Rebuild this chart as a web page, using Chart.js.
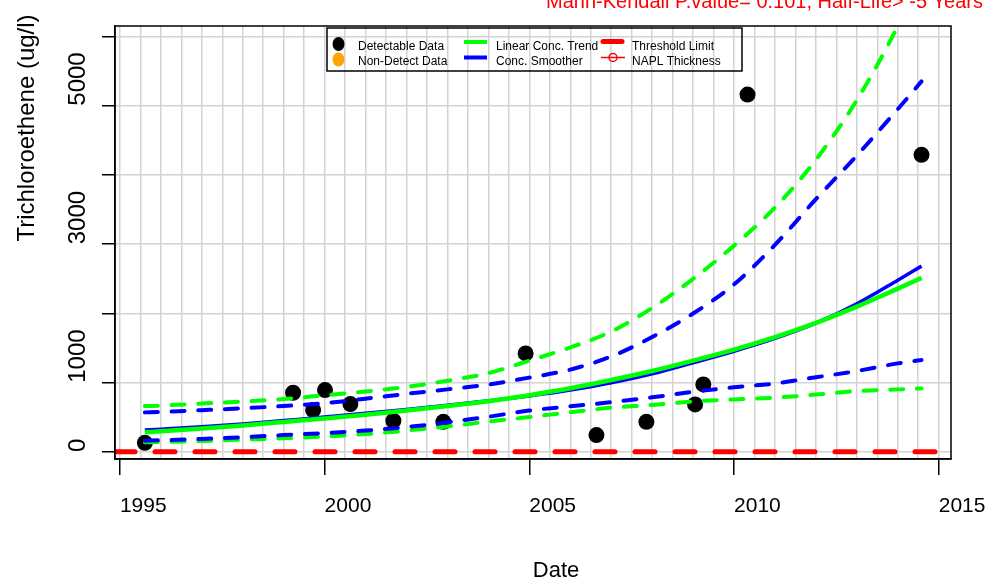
<!DOCTYPE html>
<html>
<head>
<meta charset="utf-8">
<title>Trichloroethene trend</title>
<script src="https://cdn.jsdelivr.net/npm/chart.js@4.4.1/dist/chart.umd.min.js"></script>
<style>
  html, body { margin: 0; padding: 0; background: #fff; }
  #wrap { width: 991px; height: 585px; }
</style>
</head>
<body>
<div id="wrap"><canvas id="myChart" width="991" height="585"></canvas></div>
<script>
// sampling dates (decimal years) and detected concentrations (ug/l)
const detectDates  = [1995.61, 1999.23, 1999.72, 2000.01, 2000.63, 2001.68, 2002.90,
                      2004.91, 2006.64, 2007.86, 2009.05, 2009.25, 2010.33, 2014.58];
const detectValues = [134, 856, 606, 895, 693, 452, 437,
                      1424, 245, 437, 688, 977, 5160, 4290];

// years where the fitted curves are evaluated
const fitYears = [1995.61, 1996, 1997, 1998, 1999, 2000, 2001, 2002, 2003, 2004, 2005,
                  2006, 2007, 2008, 2009, 2010, 2011, 2012, 2013, 2014, 2014.58];
// linear (log-conc) trend and its bounds
const trendValues = [285, 300, 340, 385, 435, 485, 540, 600, 665, 735, 820,
                     920, 1040, 1170, 1320, 1480, 1660, 1865, 2100, 2360, 2515];
const trendUpper  = [664, 672, 700, 730, 765, 820, 875, 940, 1030, 1140, 1320,
                     1510, 1740, 2080, 2500, 2980, 3530, 4220, 5080, 6150, 6900];
const trendLower  = [140, 145, 160, 180, 200, 225, 260, 310, 370, 440, 505,
                     575, 640, 680, 730, 760, 785, 830, 880, 905, 919];
// smoother and its bounds
const smoothValues = [317, 330, 365, 405, 455, 505, 560, 615, 675, 740, 810,
                      895, 1000, 1130, 1290, 1455, 1640, 1860, 2140, 2480, 2684];
const smoothUpper  = [573, 580, 605, 632, 665, 705, 770, 840, 905, 975, 1075,
                      1190, 1380, 1660, 2000, 2420, 2990, 3650, 4280, 4950, 5350];
const smoothLower  = [165, 170, 190, 215, 245, 275, 310, 360, 430, 510, 600,
                      660, 720, 790, 870, 935, 990, 1080, 1170, 1280, 1330];

const thresholdLimit = 5;
const xTickLabels = [1995, 2000, 2005, 2010, 2015];
const yTickLabels = [0, 1000, 3000, 5000];
const xMin = 1994.88, xMax = 2015.3;
const yMin = -100, yMax = 6150;

const FONT = '"Liberation Sans", Arial, sans-serif';

function toPoints(xs, ys){
    return xs.map((x, i) => ({x: x, y: ys[i]}));
}

/**
 * one fitted curve, solid or dashed
 */
function curve(label, values, color, width, dashed, order){
    return {
        label: label,
        data: toPoints(fitYears, values),
        borderColor: color,
        borderWidth: width,
        borderDash: dashed ? [13, 13.7] : [],
        borderCapStyle: dashed ? 'round' : 'butt',
        pointRadius: 0,
        cubicInterpolationMode: 'monotone',
        fill: false,
        clip: 0,
        order: order
    };
}

// legend drawn by hand: three columns, two rows, no fill
function drawLegend(ctx){
    ctx.strokeStyle = '#000';
    ctx.lineWidth = 1.5;
    ctx.strokeRect(327, 28, 415, 43);

    ctx.fillStyle = '#000';
    ctx.beginPath(); ctx.ellipse(338.5, 44, 6, 7, 0, 0, Math.PI * 2); ctx.fill();
    ctx.fillStyle = '#ffa500';
    ctx.beginPath(); ctx.ellipse(338.5, 59.5, 6, 7, 0, 0, Math.PI * 2); ctx.fill();

    ctx.lineCap = 'butt';
    ctx.lineWidth = 4;
    ctx.strokeStyle = '#00ff00';
    ctx.beginPath(); ctx.moveTo(464, 42); ctx.lineTo(487, 42); ctx.stroke();
    ctx.strokeStyle = '#0000ff';
    ctx.beginPath(); ctx.moveTo(464, 57.5); ctx.lineTo(487, 57.5); ctx.stroke();

    ctx.lineCap = 'round';
    ctx.lineWidth = 5;
    ctx.strokeStyle = '#ff0000';
    ctx.beginPath(); ctx.moveTo(603, 41.5); ctx.lineTo(622, 41.5); ctx.stroke();
    ctx.lineCap = 'butt';
    ctx.lineWidth = 1.5;
    ctx.beginPath(); ctx.moveTo(601, 57.5); ctx.lineTo(625, 57.5); ctx.stroke();
    ctx.beginPath(); ctx.arc(613, 57.5, 4, 0, Math.PI * 2); ctx.stroke();

    ctx.fillStyle = '#000';
    ctx.font = '12px ' + FONT;
    ctx.textAlign = 'left';
    ctx.textBaseline = 'alphabetic';
    ctx.fillText('Detectable Data', 358, 49.5);
    ctx.fillText('Non-Detect Data', 358, 65);
    ctx.fillText('Linear Conc. Trend', 496, 49.5);
    ctx.fillText('Conc. Smoother', 496, 65);
    ctx.fillText('Threshold Limit', 632, 49.5);
    ctx.fillText('NAPL Thickness', 632, 65);
}

// frame, rotated y labels, titles and legend
const decorations = {
    id: 'decorations',
    afterDraw(chart){
        const ctx = chart.ctx;
        const area = chart.chartArea;
        const yScale = chart.scales.y;
        ctx.save();

        ctx.strokeStyle = '#000';
        ctx.lineWidth = 1.5;
        ctx.strokeRect(area.left, area.top, area.right - area.left, area.bottom - area.top);

        // y tick labels read upwards, starting at their tick
        ctx.fillStyle = '#000';
        ctx.font = '24px ' + FONT;
        ctx.textAlign = 'left';
        ctx.textBaseline = 'middle';
        yTickLabels.forEach(function(v){
            ctx.save();
            ctx.translate(78, yScale.getPixelForValue(v));
            ctx.rotate(-Math.PI / 2);
            ctx.fillText(String(v), 0, 0);
            ctx.restore();
        });

        ctx.save();
        ctx.font = '24px ' + FONT;
        ctx.textAlign = 'center';
        ctx.translate(27, 128);
        ctx.rotate(-Math.PI / 2);
        ctx.fillText('Trichloroethene (ug/l)', 0, 0);
        ctx.restore();

        ctx.font = '22px ' + FONT;
        ctx.textAlign = 'center';
        ctx.textBaseline = 'alphabetic';
        ctx.fillText('Date', 556, 577);

        ctx.fillStyle = '#ff0000';
        ctx.font = '20px ' + FONT;
        ctx.textAlign = 'right';
        ctx.fillText('Mann-Kendall P.value= 0.101, Half-Life> -5 Years', 983, 8);

        drawLegend(ctx);
        ctx.restore();
    }
};

const datasets = [
    curve('Linear Conc. Trend', trendValues, '#00ff00', 4.5, false, 1),
    curve('Conc. Smoother', smoothValues, '#0000ff', 3.5, false, 2),
    curve('Smoother upper', smoothUpper, '#0000ff', 4, true, 3),
    curve('Smoother lower', smoothLower, '#0000ff', 4, true, 3),
    curve('Trend upper', trendUpper, '#00ff00', 4, true, 4),
    curve('Trend lower', trendLower, '#00ff00', 4, true, 4),
    {
        label: 'Threshold Limit',
        data: [{x: xMin, y: thresholdLimit}, {x: xMax, y: thresholdLimit}],
        borderColor: '#ff0000',
        borderWidth: 5,
        borderDash: [20, 20],
        borderCapStyle: 'round',
        pointRadius: 0,
        clip: 0,
        order: 9
    },
    {
        label: 'Detectable Data',
        data: toPoints(detectDates, detectValues),
        showLine: false,
        pointRadius: 8,
        pointBorderWidth: 0,
        pointBackgroundColor: '#000',
        pointBorderColor: '#000',
        order: 10
    }
];

const canvas = document.getElementById('myChart');
const ctx = canvas.getContext('2d');

const myChart = new Chart(ctx, {
    type: 'line',
    data: { datasets: datasets },
    options: {
        responsive: false,
        animation: false,
        events: [],
        layout: { padding: { top: 26, right: 40, bottom: 0, left: 0 } },
        plugins: {
            legend: { display: false },
            tooltip: { enabled: false },
            title: { display: false }
        },
        scales: {
            x: {
                type: 'linear',
                min: xMin,
                max: xMax,
                afterBuildTicks: function(scale){
                    const t = [];
                    for (let v = 1995; v <= 2015; v += 0.5) t.push({value: v});
                    scale.ticks = t;
                },
                afterFit: function(scale){
                    scale.height = 126;
                    scale.paddingLeft = 0;
                    scale.paddingRight = 0;
                },
                grid: {
                    color: '#d3d3d3',
                    lineWidth: 1.5,
                    tickLength: 16,
                    tickWidth: 1.5,
                    tickColor: c => (c.tick && c.tick.value % 5 === 0) ? '#000' : 'rgba(0,0,0,0)'
                },
                border: { color: '#000', width: 1.5 },
                ticks: {
                    align: 'start',
                    padding: 19,
                    color: '#000',
                    autoSkip: false,
                    maxRotation: 0,
                    font: { family: FONT, size: 21 },
                    callback: v => xTickLabels.includes(v) ? String(v) : ''
                }
            },
            y: {
                type: 'linear',
                min: yMin,
                max: yMax,
                afterBuildTicks: function(scale){
                    const t = [];
                    for (let v = 0; v <= 6000; v += 1000) t.push({value: v});
                    scale.ticks = t;
                },
                afterFit: function(scale){
                    scale.width = 115;
                },
                grid: {
                    color: '#d3d3d3',
                    lineWidth: 1.5,
                    tickLength: 13,
                    tickWidth: 1.5,
                    tickColor: '#000'
                },
                border: { color: '#000', width: 1.5 },
                ticks: { display: false }
            }
        }
    },
    plugins: [decorations]
});
</script>
</body>
</html>
